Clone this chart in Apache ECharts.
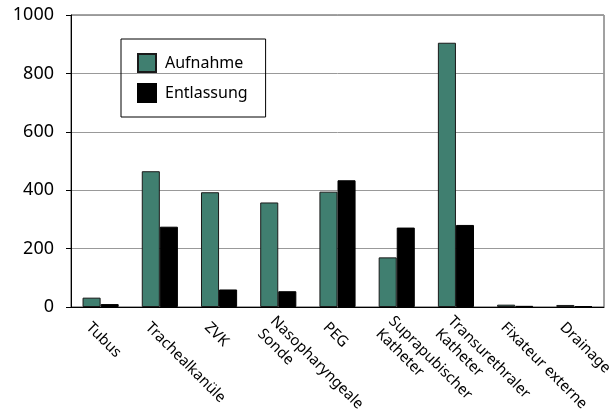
<!DOCTYPE html>
<html lang="de">
<head>
	<meta charset="UTF-8">
	<title>Aufnahme / Entlassung</title>
	<script type="text/javascript" src="https://cdn.jsdelivr.net/npm/echarts@6/dist/echarts.min.js"></script>
	<style>
		html, body, #content {
			width: 100%;
			height: 100%;
			margin: 0;
			background: #fff;
		}
	</style>
</head>
<body>
	<div id="content"></div>
	<script>
		// Daten
		var kategorien = ['Tubus', 'Trachealkanüle', 'ZVK', 'Nasopharyngeale\nSonde', 'PEG',
			'Suprapubischer\nKatheter', 'Transurethraler\nKatheter', 'Fixateur externe', 'Drainage'];
		var aufnahme = [32, 465, 393, 358, 395, 170, 905, 8, 7];
		var entlassung = [10, 275, 60, 54, 434, 272, 281, 4, 3];
		var yTicks = [0, 200, 400, 600, 800, 1000];

		var schrift = 'Noto Sans';
		var versatz = 12; // Beschriftung etwas nach links (wie im Original)
		var chart = echarts.init(document.getElementById('content'));

		chart.setOption({
			animation: false,
			textStyle: { fontFamily: schrift },
			grid: [
				{
					left: 71, right: 11, top: 15, bottom: 112, outerBoundsMode: 'none',
					show: true, borderColor: '#444', borderWidth: 1
				},
				// nur fuer die Beschriftung der Kategorien
				{ left: 71 - versatz, right: 11 + versatz, top: 15, bottom: 112, outerBoundsMode: 'none' }
			],
			legend: {
				orient: 'vertical',
				left: 121, top: 39,
				padding: [14, 18, 14, 16],
				itemGap: 10,
				itemWidth: 18, itemHeight: 18,
				icon: 'rect',
				borderColor: '#000', borderWidth: 1,
				textStyle: { fontSize: 16, color: '#000', fontFamily: schrift, padding: [0, 0, 0, 4] },
				data: ['Aufnahme', 'Entlassung']
			},
			xAxis: [
				{
					type: 'category',
					data: kategorien,
					axisLine: { lineStyle: { color: '#000', width: 1 } },
					axisTick: { length: 6, lineStyle: { color: '#000' } },
					axisLabel: { show: false }
				},
				{
					type: 'category',
					gridIndex: 1,
					data: kategorien,
					axisLine: { show: false },
					axisTick: { show: false },
					axisLabel: {
						rotate: -45, interval: 0, margin: 18,
						align: 'left', verticalAlign: 'middle',
						fontSize: 15, lineHeight: 18, color: '#000', fontFamily: schrift
					}
				}
			],
			yAxis: [
				{
					type: 'value',
					min: yTicks[0], max: yTicks[yTicks.length - 1], interval: 200,
					axisLine: { show: true, lineStyle: { color: '#000', width: 1 } },
					axisTick: { show: true, length: 5, lineStyle: { color: '#000' } },
					axisLabel: {
						fontSize: 18, color: '#000', fontFamily: schrift, margin: 17,
						formatter: function (v) { return String(v); }
					},
					splitLine: { lineStyle: { color: '#999', width: 1 } }
				},
				{
					type: 'value', gridIndex: 1, show: false,
					min: yTicks[0], max: yTicks[yTicks.length - 1]
				}
			],
			series: [
				{
					name: 'Aufnahme', type: 'bar', data: aufnahme,
					barCategoryGap: '39%', barGap: '0%',
					itemStyle: { color: '#407f70', borderColor: '#1a1a1a', borderWidth: 1 }
				},
				{
					name: 'Entlassung', type: 'bar', data: entlassung,
					itemStyle: { color: '#000', borderColor: '#000', borderWidth: 1 }
				}
			]
		});
		window.onresize = chart.resize;
	</script>
</body>
</html>
